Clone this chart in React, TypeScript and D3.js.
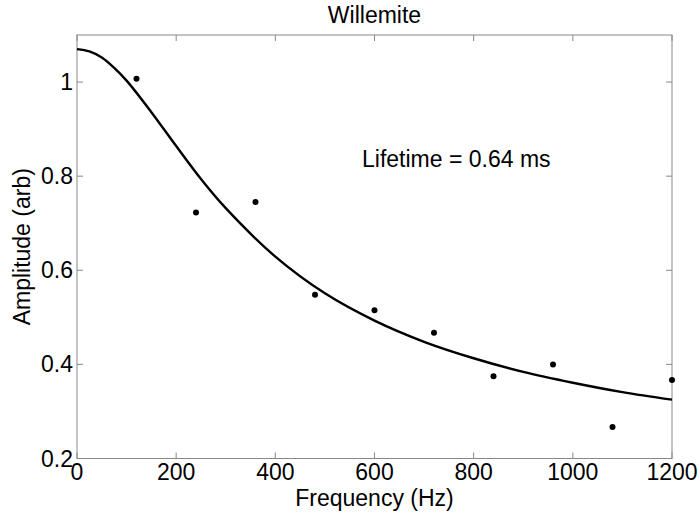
import React from "react";
import * as d3 from "d3";

const pointFreq = [120, 240, 360, 480, 600, 720, 840, 960, 1080, 1200];
const pointAmp = [1.007, 0.723, 0.745, 0.548, 0.515, 0.467, 0.375, 0.4, 0.267, 0.367];
const fitFreq = [0, 25, 50, 75, 100, 150, 200, 250, 300, 400, 500, 600, 700, 800, 900, 1000, 1100, 1200];
const fitAmp = [1.07, 1.065, 1.052, 1.03, 1.003, 0.936, 0.864, 0.794, 0.732, 0.629, 0.551, 0.493, 0.448, 0.413, 0.384, 0.361, 0.341, 0.325];
const xTicks = [0, 200, 400, 600, 800, 1000, 1200];
const yTicks = [0.2, 0.4, 0.6, 0.8, 1];

const W = 699, H = 514;
const L = 77, R = 672, T = 35, B = 458.5;

export default function App() {
  const x = d3.scaleLinear().domain([0, 1200]).range([L, R]);
  const y = d3.scaleLinear().domain([0.2, 1.1]).range([B, T]);
  const line = d3.line<number>().x((_, i) => x(fitFreq[i])).y((d) => y(d)).curve(d3.curveCatmullRom);
  const font = "'Liberation Sans', Arial, sans-serif";
  const axisColor = "#888";
  const fs = 23;
  return (
    <svg width={W} height={H} style={{ position: "absolute", left: 0, top: 0, background: "#fff" }} fontFamily={font}>
      <rect x={0} y={0} width={W} height={H} fill="#fff" />
      {xTicks.map((t) => (
        <g key={"x" + t}>
          <line x1={x(t)} x2={x(t)} y1={B} y2={B - 6} stroke={axisColor} />
          <line x1={x(t)} x2={x(t)} y1={T} y2={T + 6} stroke={axisColor} />
          <text x={x(t)} y={B + 21.5} textAnchor="middle" fontSize={fs} fill="#000">{t}</text>
        </g>
      ))}
      {yTicks.map((t) => (
        <g key={"y" + t}>
          <line x1={L} x2={L + 6} y1={y(t)} y2={y(t)} stroke={axisColor} />
          <line x1={R} x2={R - 6} y1={y(t)} y2={y(t)} stroke={axisColor} />
          <text x={L - 4} y={y(t) + 8} textAnchor="end" fontSize={fs} fill="#000">{t === 1 ? "1" : t.toFixed(1)}</text>
        </g>
      ))}
      <rect x={L} y={T} width={R - L} height={B - T} fill="none" stroke={axisColor} strokeWidth={1} />
      <path d={line(fitAmp) || ""} fill="none" stroke="#000" strokeWidth={2.4} />
      {pointFreq.map((f, i) => (
        <circle key={"p" + i} cx={x(f)} cy={y(pointAmp[i])} r={3} fill="#000" />
      ))}
      <text x={(L + R) / 2} y={23} textAnchor="middle" fontSize={fs} fill="#000">Willemite</text>
      <text x={362} y={166.5} fontSize={fs} fill="#000">Lifetime = 0.64 ms</text>
      <text x={(L + R) / 2} y={506} textAnchor="middle" fontSize={fs} fill="#000">Frequency (Hz)</text>
      <text transform={`translate(30, ${(T + B) / 2}) rotate(-90)`} textAnchor="middle" fontSize={fs} fill="#000">Amplitude (arb)</text>
    </svg>
  );
}
